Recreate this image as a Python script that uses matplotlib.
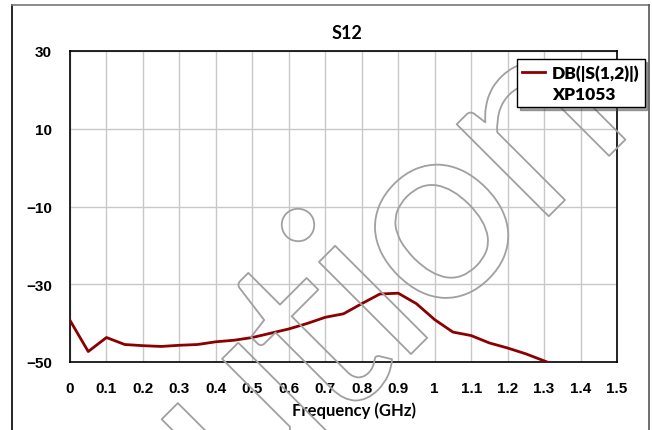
import numpy as np
import matplotlib.pyplot as plt
import matplotlib.patheffects as pe
from matplotlib.lines import Line2D

freq = [0.0, 0.05, 0.1, 0.15, 0.2, 0.25, 0.3, 0.35, 0.4, 0.45, 0.5, 0.55, 0.6,
        0.65, 0.7, 0.75, 0.8, 0.85, 0.9, 0.95, 1.0, 1.05, 1.1, 1.15, 1.2, 1.25,
        1.3, 1.35]
s12_db = [-39.3, -47.3, -43.7, -45.5, -45.8, -46.0, -45.7, -45.5, -44.8, -44.4,
          -43.7, -42.6, -41.5, -40.1, -38.5, -37.6, -35.0, -32.5, -32.3, -35.0,
          -39.1, -42.3, -43.2, -45.1, -46.4, -47.9, -49.7, -51.5]

x_ticks = [0.0, 0.1, 0.2, 0.3, 0.4, 0.5, 0.6, 0.7, 0.8, 0.9, 1.0, 1.1, 1.2,
           1.3, 1.4, 1.5]
y_ticks = [-50, -30, -10, 10, 30]

legend_labels = ["DB(|S(1,2)|)", "XP1053"]
title = "S12"
x_label = "Frequency (GHz)"
watermark = "Caution"

W, H = 652, 431
fig = plt.figure(figsize=(W / 100, H / 100), dpi=100)
ax = fig.add_axes([70 / W, 1 - 363 / H, (617 - 70) / W, (363 - 52) / H])

ax.plot(freq, s12_db, color="#8b0000", lw=2, zorder=3)
ax.set_xlim(0, 1.5)
ax.set_ylim(-50, 30)
ax.set_xticks(x_ticks)
ax.set_yticks(y_ticks)
ax.set_xticklabels(["%g" % t for t in x_ticks])
ax.grid(True, color="#c8c8c8", lw=1)
ax.set_axisbelow(True)
ax.tick_params(length=0, labelsize=11)
ax.tick_params(axis="y", pad=13)
ax.tick_params(axis="x", pad=14)
for lab in ax.get_xticklabels() + ax.get_yticklabels():
    lab.set_fontweight("bold")
    lab.set_family("Liberation Sans")
for sp in ax.spines.values():
    sp.set_color("black")
    sp.set_linewidth(1.2)

ax.set_title(title, fontsize=13, fontweight="bold", family="Lato", pad=9, x=0.507)
ax.set_xlabel(x_label, fontsize=12, fontweight="bold", family="Lato", labelpad=4, x=0.52)

# second legend row has no marker, just text under the first one
handles = [Line2D([], [], color="#8b0000", lw=2), Line2D([], [], color="none")]
leg = fig.legend(handles, legend_labels, loc="upper left",
                 bbox_to_anchor=(517 / W, 1 - 60 / H), bbox_transform=fig.transFigure,
                 borderaxespad=0, fancybox=False, shadow=True, framealpha=1,
                 edgecolor="black", handlelength=1.3, handletextpad=0.4,
                 borderpad=0.3, labelspacing=0.3,
                 prop={"family": "Lato", "weight": "heavy", "size": 12.5})
leg.get_frame().set_linewidth(1)
leg.set_zorder(10)

# outer frame of the picture
fig.add_artist(Line2D([12 / W, 12 / W], [0, 1 - 6 / H], color="black", lw=1.2))
fig.add_artist(Line2D([12 / W, 649 / W], [1 - 6 / H, 1 - 6 / H], color="#777777", lw=1.2))
fig.add_artist(Line2D([649 / W, 649 / W], [0, 1 - 6 / H], color="#555555", lw=1.2))

# outlined watermark, letters set along a 45 degree baseline (pixel offsets)
wm_offsets = [-395, -254, -128, -21, 51, 148, 288]
base_sum = 766
for ch, s in zip(watermark, wm_offsets):
    px = (base_sum + s * np.sqrt(2)) / 2
    py = (base_sum - s * np.sqrt(2)) / 2
    fig.text(px / W, 1 - py / H, ch, rotation=45, rotation_mode="anchor",
             ha="center", va="baseline", fontsize=185, family="Lato",
             color="none",
             path_effects=[pe.Stroke(linewidth=1.3, foreground="#a0a0a0")], zorder=5)

fig.savefig("out.png", dpi=100)
